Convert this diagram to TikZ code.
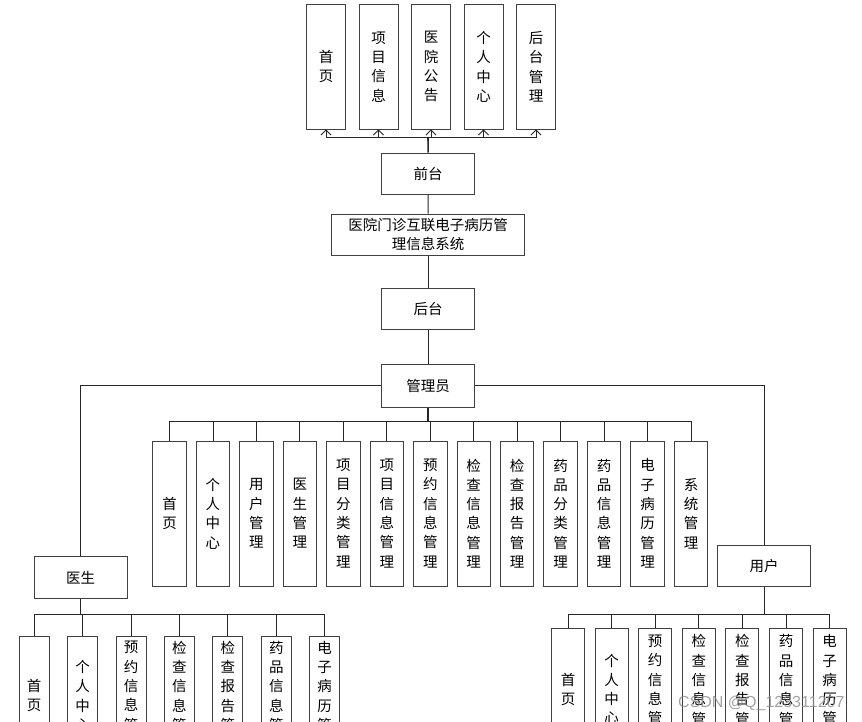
\documentclass[tikz,border=0pt]{standalone}
\usepackage{fontspec}
\newfontfamily\cjk{Noto Sans CJK SC}
\setsansfont{Liberation Sans}
\usetikzlibrary{arrows.meta}
\tikzset{
  box/.style={draw=black!75, line width=0.9pt, inner sep=0pt, align=center,
    font=\cjk\fontsize{14.5}{19.3}\selectfont},
  hbox/.style={box, minimum width=93pt, minimum height=41.5pt},
  vbox/.style={box, minimum width=#1},
  conn/.style={draw=black!85, line width=0.9pt},
  arr/.style={conn, -{Straight Barb[length=5pt,width=10pt]}},
}
\begin{document}
\begin{tikzpicture}[x=1pt,y=-1pt]
\useasboundingbox[fill=white] (0,0) rectangle (862,721);
% top level
\foreach \t [count=\i from 0] in {首\\页, 项\\目\\信\\息, 医\\院\\公\\告, 个\\人\\中\\心, 后\\台\\管\\理}{
  \node[vbox=39pt, minimum height=124.5pt] (t\i) at (326+52.5*\i, 66.75) {\t};
}
\node[hbox] (qt) at (428.2,173.7) {前台};
\node[box, minimum width=192.6pt, minimum height=41.3pt] (sys) at (428,234.7) {医院门诊互联电子病历管\\理信息系统};
\node[hbox] (ht) at (428,309) {后台};
\node[hbox, minimum height=42.7pt] (adm) at (428,385.7) {管理员};
\node[hbox] (doc) at (80.7,577.5) {医生};
\node[hbox] (usr) at (764.2,565.8) {用户};

\coordinate (fbus) at (428,137);
\draw[conn, line width=1.6pt] (qt.north) -- (fbus);
\foreach \i in {0,...,4}{ \draw[arr] (fbus) -| (t\i.south); }
\draw[conn] (qt) -- (sys);
\draw[conn] (sys) -- (ht);
\draw[conn] (ht) -- (adm);
\draw[conn] (adm.west) -| (doc.north);
\draw[conn] (adm.east) -| (usr.north);

% admin children
\foreach \t [count=\i from 0] in {首\\页, 个\\人\\中\\心, 用\\户\\管\\理, 医\\生\\管\\理, 项\\目\\分\\类\\管\\理, 项\\目\\信\\息\\管\\理, 预\\约\\信\\息\\管\\理, 检\\查\\信\\息\\管\\理, 检\\查\\报\\告\\管\\理, 药\\品\\分\\类\\管\\理, 药\\品\\信\\息\\管\\理, 电\\子\\病\\历\\管\\理, 系\\统\\管\\理}{
  \node[vbox=33.5pt, minimum height=145pt] (a\i) at (169.5+43.46*\i, 513.5) {\t};
}
\coordinate (abus) at (428,421.7);
\draw[conn, line width=1.4pt] (adm.south) -- (abus);
\foreach \i in {0,...,12}{ \draw[conn] (abus) -| (a\i.north); }

% doctor children
\foreach \t [count=\i from 0] in {首\\页, 个\\人\\中\\心, 预\\约\\信\\息\\管\\理, 检\\查\\信\\息\\管\\理, 检\\查\\报\\告\\管\\理, 药\\品\\信\\息\\管\\理, 电\\子\\病\\历\\管\\理}{
  \node[vbox=30pt, minimum height=118pt] (d\i) at (34.2+48.42*\i, 695.7) {\t};
}
\coordinate (dbus) at (80.7,614);
\draw[conn, line width=1.4pt] (doc.south) -- (dbus);
\foreach \i in {0,...,6}{ \draw[conn] (dbus) -| (d\i.north); }

% user children
\foreach \t [count=\i from 0] in {首\\页, 个\\人\\中\\心, 预\\约\\信\\息\\管\\理, 检\\查\\信\\息\\管\\理, 检\\查\\报\\告\\管\\理, 药\\品\\信\\息\\管\\理, 电\\子\\病\\历\\管\\理}{
  \node[vbox=33pt, minimum height=122pt] (u\i) at (568+43.6*\i, 689.3) {\t};
}
\coordinate (ubus) at (764.2,614);
\draw[conn, line width=1.4pt] (usr.south) -- (ubus);
\foreach \i in {0,...,6}{ \draw[conn] (ubus) -| (u\i.north); }

\node[text=black!45, opacity=0.8, font=\sffamily\fontsize{16}{16}\selectfont, anchor=east] (wm) at (848,703) {CSDN @Q\_123311207};
\end{tikzpicture}
\end{document}
